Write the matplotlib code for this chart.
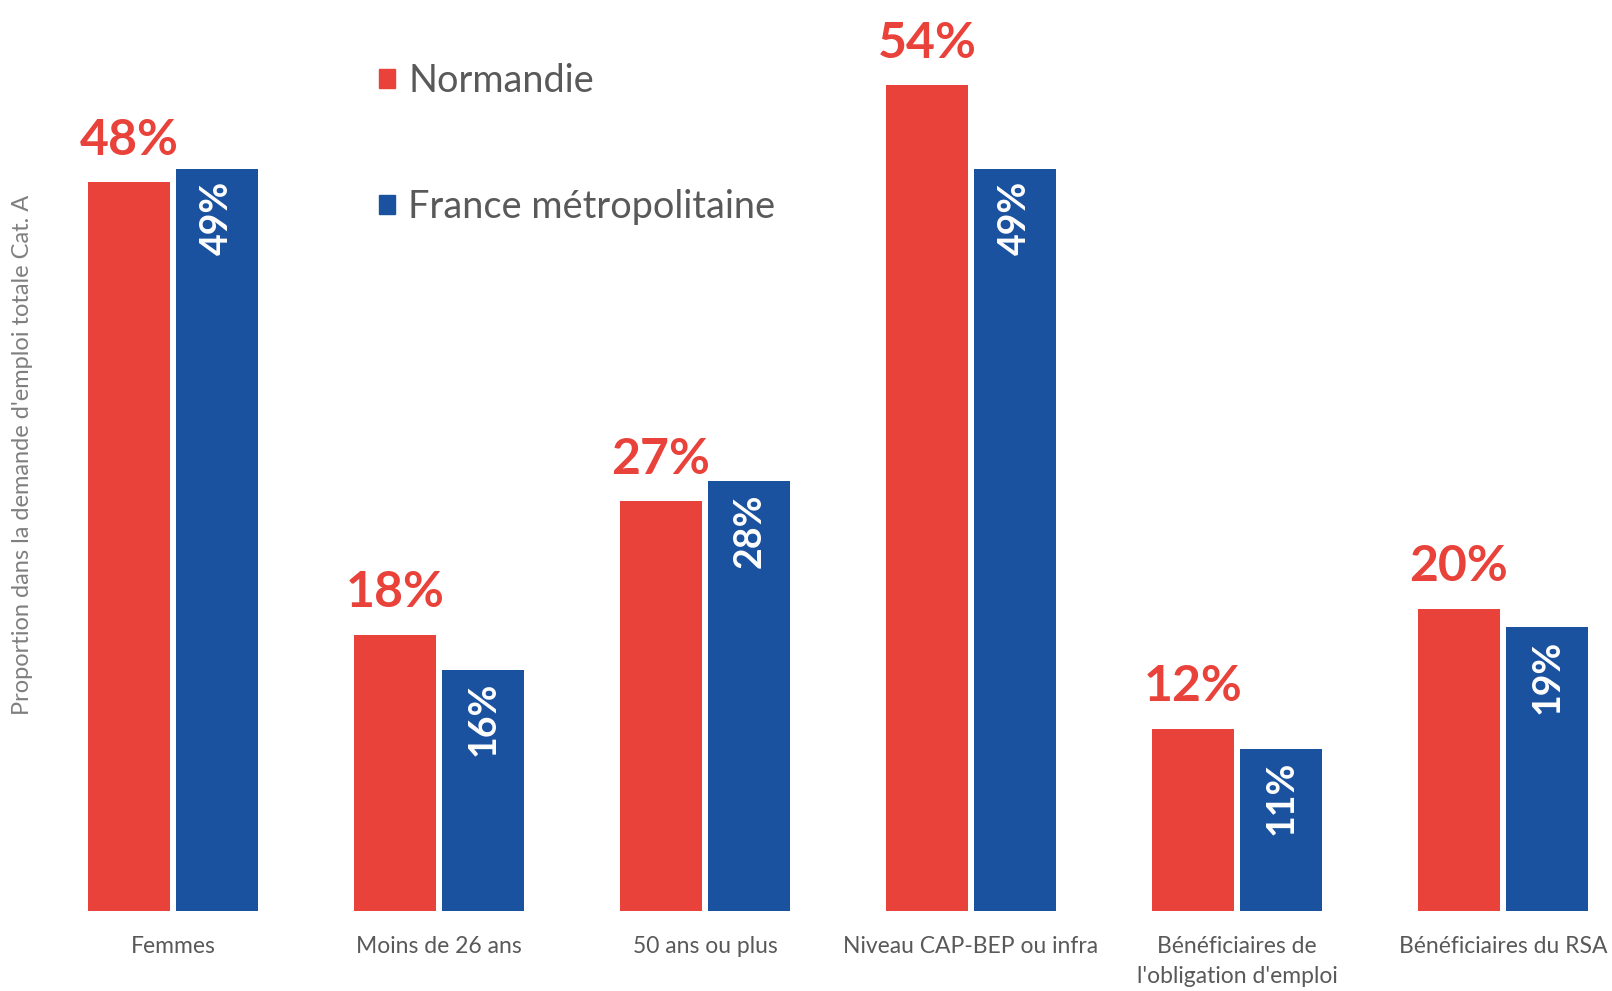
import numpy as np
import matplotlib.pyplot as plt
from matplotlib.patches import Patch

# Données
categories = ["Femmes", "Moins de 26 ans", "50 ans ou plus", "Niveau CAP-BEP ou infra",
              "Bénéficiaires de\nl'obligation d'emploi", "Bénéficiaires du RSA"]
normandie = [48.0, 18.2, 27.0, 54.4, 12.0, 19.9]
france = [48.9, 15.9, 28.3, 48.9, 10.7, 18.7]
labels_normandie = ["48%", "18%", "27%", "54%", "12%", "20%"]
labels_france = ["49%", "16%", "28%", "49%", "11%", "19%"]

red = "#E8423A"
blue = "#1A52A0"
grey = "#595959"

plt.rcParams['font.family'] = ['Lato', 'DejaVu Sans']

fig = plt.figure(figsize=(16.12, 9.91), dpi=100)
ax = fig.add_axes([60 / 1612, 80 / 991, 1 - 60 / 1612, 911 / 991])

x = np.arange(len(categories))
w = 0.31
off = 0.166
b1 = ax.bar(x - off, normandie, w, color=red, label="Normandie")
b2 = ax.bar(x + off, france, w, color=blue, label="France métropolitaine")

# étiquettes rouges au-dessus
for rect, lab in zip(b1, labels_normandie):
    ax.annotate(lab, (rect.get_x() + rect.get_width() / 2, rect.get_height()),
                xytext=(0, 14), textcoords="offset points", ha="center", va="bottom",
                color=red, fontsize=36, fontweight="bold")

# étiquettes blanches verticales dans les barres bleues
for rect, lab in zip(b2, labels_france):
    ax.annotate(lab, (rect.get_x() + rect.get_width() / 2, rect.get_height()),
                xytext=(0, -9), textcoords="offset points", ha="center", va="top",
                rotation=90, color="white", fontsize=27, fontweight="bold")

ax.set_xlim(-0.425, 5.41)
ax.set_ylim(0, 60)
ax.set_xticks(x)
ax.set_xticklabels(categories, fontsize=16.5, color=grey, linespacing=1.55)
ax.tick_params(axis="x", length=0, pad=18)
ax.set_yticks([])
for s in ax.spines.values():
    s.set_visible(False)

fig.text(23 / 1612, 1 - 455 / 991, "Proportion dans la demande d'emploi totale Cat. A",
         rotation=90, ha="center", va="center", fontsize=17, color="#7f7f7f")

handles = [Patch(color=red), Patch(color=blue)]
ax.legend(handles, ["Normandie", "France métropolitaine"], loc="upper left",
          bbox_to_anchor=(360 / 1612, 1 - 44 / 991), bbox_transform=fig.transFigure,
          frameon=False, fontsize=27.3, labelcolor=grey, labelspacing=2.38,
          handlelength=0.42, handleheight=0.42, handletextpad=0.35, borderpad=0)

fig.savefig("out.png", dpi=100)
